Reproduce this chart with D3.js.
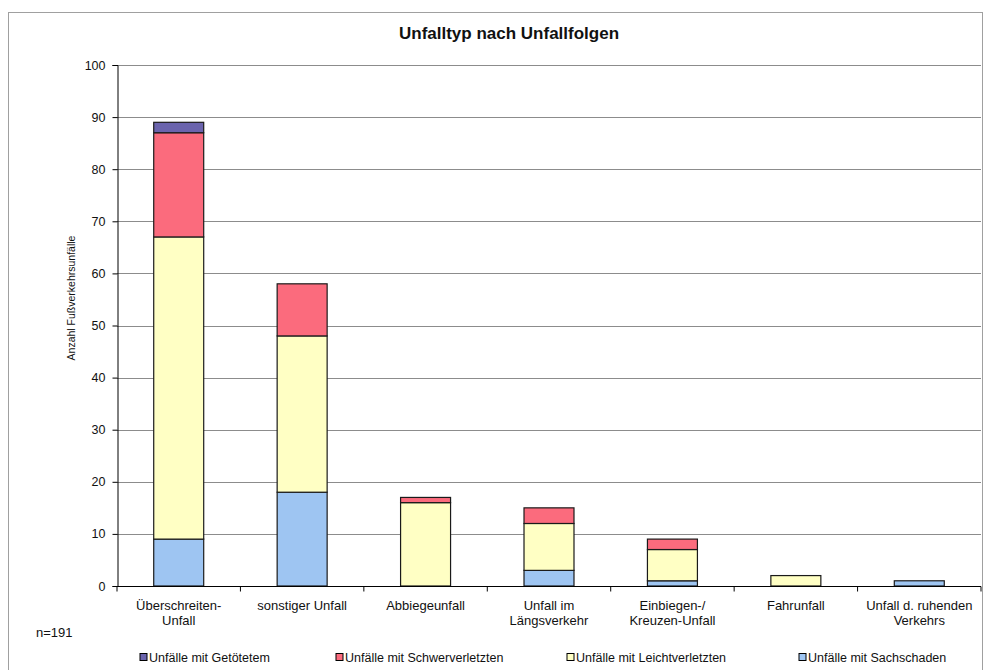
<!DOCTYPE html>
<html>
<head>
<meta charset="utf-8">
<script src="https://cdn.jsdelivr.net/npm/d3@7"></script>
<style>
  body { margin: 0; background: #fff; }
  text { font-family: Arial, "Liberation Sans", sans-serif; fill: #111; }
</style>
</head>
<body>
<script>
// Unfalltypen (x-Achse)
const categories = [
    ['Überschreiten-', 'Unfall'],
    ['sonstiger Unfall'],
    ['Abbiegeunfall'],
    ['Unfall im', 'Längsverkehr'],
    ['Einbiegen-/', 'Kreuzen-Unfall'],
    ['Fahrunfall'],
    ['Unfall d. ruhenden', 'Verkehrs']
];

// series, bottom to top
const sachschaden      = [9, 18, 0, 3, 1, 0, 1];
const leichtverletzte  = [58, 30, 16, 9, 6, 2, 0];
const schwerverletzte  = [20, 10, 1, 3, 2, 0, 0];
const getoetete        = [2, 0, 0, 0, 0, 0, 0];

const seriesNames = ['Unfälle mit Sachschaden', 'Unfälle mit Leichtverletzten', 'Unfälle mit Schwerverletzten', 'Unfälle mit Getötetem'];
const seriesColors = ['#9ec5f2', '#ffffc4', '#fb6b7d', '#6b64ad'];
const yTicks = [0, 10, 20, 30, 40, 50, 60, 70, 80, 90, 100];

const W = 989, H = 670;
const margin = { top: 65, right: 8, bottom: 84, left: 117 };

const svg = d3.select('body').append('svg')
    .attr('width', W)
    .attr('height', H);

// chart frame
svg.append('rect')
    .attr('x', 8.5).attr('y', 12.5)
    .attr('width', 974).attr('height', 670)
    .attr('fill', 'none')
    .attr('stroke', '#a0a0a0');

const x = d3.scaleBand()
    .domain(d3.range(categories.length))
    .range([margin.left, W - margin.right])
    .paddingInner(0.595)
    .paddingOuter(0.2975);

const xOuter = d3.scaleBand()
    .domain(d3.range(categories.length))
    .range([margin.left, W - margin.right]);

const y = d3.scaleLinear()
    .domain([0, 100])
    .range([H - margin.bottom, margin.top]);

// gridlines
svg.append('g')
    .selectAll('line')
    .data(yTicks)
    .join('line')
    .attr('x1', margin.left).attr('x2', W - margin.right)
    .attr('y1', d => Math.round(y(d)) + 0.5).attr('y2', d => Math.round(y(d)) + 0.5)
    .attr('stroke', '#8c8c8c')
    .attr('stroke-width', 1);

// y axis
const yAxis = svg.append('g')
    .attr('transform', `translate(${margin.left + 0.5},0)`)
    .call(d3.axisLeft(y).tickValues(yTicks).tickSize(5).tickPadding(7));
yAxis.select('.domain').attr('stroke', '#000');
yAxis.selectAll('.tick line').attr('stroke', '#000');
yAxis.selectAll('.tick text').style('font-size', '12.5px').attr('fill', '#111');

// stacked bars
const rows = categories.map((c, i) => ({
    i: i,
    s0: sachschaden[i], s1: leichtverletzte[i], s2: schwerverletzte[i], s3: getoetete[i]
}));
const stack = d3.stack().keys(['s0', 's1', 's2', 's3']);
const layers = stack(rows);

svg.append('g')
    .selectAll('g')
    .data(layers)
    .join('g')
    .attr('fill', (d, k) => seriesColors[k])
    .selectAll('rect')
    .data(d => d.filter(p => p[1] > p[0]))
    .join('rect')
    .attr('x', d => x(d.data.i))
    .attr('y', d => y(d[1]))
    .attr('width', x.bandwidth())
    .attr('height', d => y(d[0]) - y(d[1]))
    .attr('stroke', '#1a1a1a')
    .attr('stroke-width', 1.2);

// x axis
const xAxisG = svg.append('g')
    .attr('transform', `translate(0,${Math.round(y(0)) + 0.5})`);
xAxisG.append('line')
    .attr('x1', margin.left).attr('x2', W - margin.right)
    .attr('stroke', '#000');
xAxisG.selectAll('.tk')
    .data(d3.range(categories.length + 1))
    .join('line')
    .attr('x1', d => margin.left + d * xOuter.step())
    .attr('x2', d => margin.left + d * xOuter.step())
    .attr('y1', 0).attr('y2', 5)
    .attr('stroke', '#000');

const labels = svg.append('g')
    .selectAll('text')
    .data(categories)
    .join('text')
    .attr('x', (d, i) => xOuter(i) + xOuter.bandwidth() / 2)
    .attr('y', y(0) + 24)
    .attr('text-anchor', 'middle')
    .style('font-size', '13px');
labels.selectAll('tspan')
    .data(d => d)
    .join('tspan')
    .attr('x', function () { return this.parentNode.getAttribute('x'); })
    .attr('dy', (d, j) => j === 0 ? 0 : 15)
    .text(d => d);

// title
svg.append('text')
    .attr('x', 509).attr('y', 39)
    .attr('text-anchor', 'middle')
    .style('font-size', '17px')
    .style('font-weight', 'bold')
    .text('Unfalltyp nach Unfallfolgen');

// y label
svg.append('text')
    .attr('transform', `translate(75,298) rotate(-90)`)
    .attr('text-anchor', 'middle')
    .style('font-size', '10.5px')
    .text('Anzahl Fußverkehrsunfälle');

// n
svg.append('text')
    .attr('x', 36).attr('y', 637)
    .style('font-size', '13px')
    .text('n=191');

// legend (reverse order as in Excel)
const legendX = [148, 344, 575, 807];
const legend = svg.append('g')
    .selectAll('g')
    .data([3, 2, 1, 0])
    .join('g')
    .attr('transform', (d, j) => `translate(${legendX[j]},659)`);
legend.append('rect')
    .attr('x', -8).attr('y', -5.5)
    .attr('width', 7).attr('height', 7)
    .attr('fill', d => seriesColors[d])
    .attr('stroke', '#000')
    .attr('stroke-width', 1);
legend.append('text')
    .attr('x', 1).attr('y', 3)
    .style('font-size', '12.5px')
    .text(d => seriesNames[d]);
</script>
</body>
</html>
